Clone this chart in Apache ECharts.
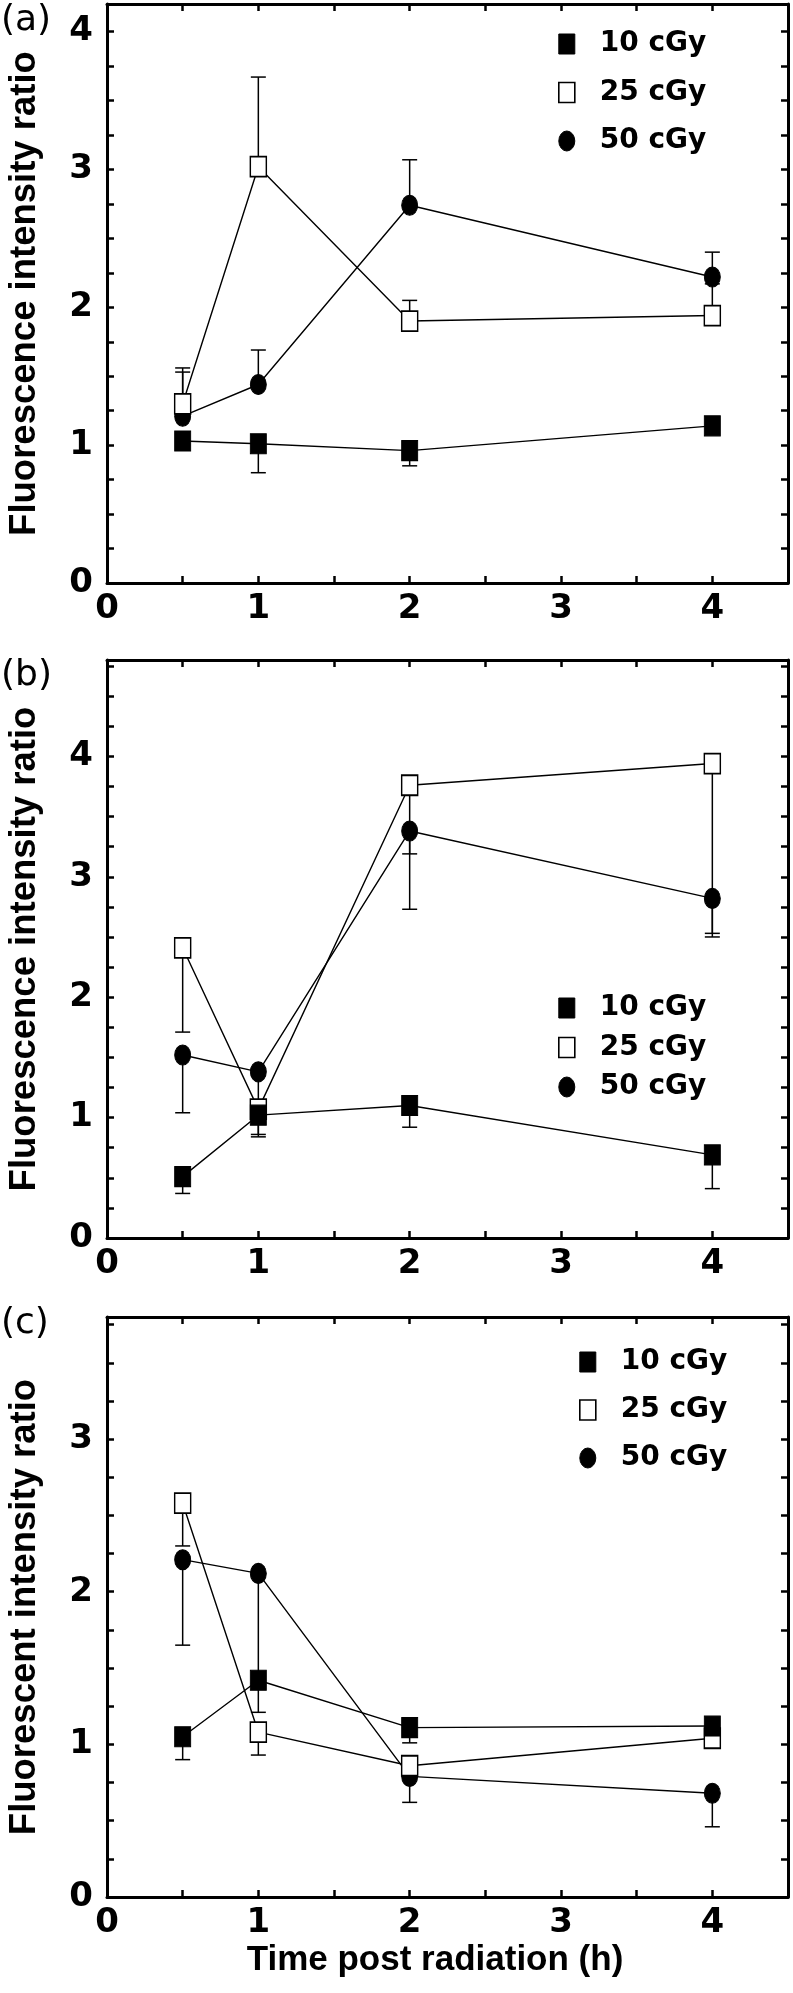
<!DOCTYPE html>
<html>
<head>
<meta charset="utf-8">
<script src="https://cdn.jsdelivr.net/npm/echarts@6/dist/echarts.min.js"></script>
<style>
html, body { margin: 0; padding: 0; background: #ffffff; }
#chart { width: 793px; height: 1993px; }
</style>
</head>
<body>
<div id="chart"></div>
<script>
// ---------------- data ----------------
const times = [0.5, 1, 2, 4];
const seriesNames = ['10 cGy', '25 cGy', '50 cGy'];
const panelLabels = ['(a)', '(b)', '(c)'];
const yTitles = ['Fluorescence intensity ratio', 'Fluorescence intensity ratio', 'Fluorescent intensity ratio'];
const xTitle = 'Time post radiation (h)';
const yMaxes = [4.2, 4.8, 3.8];

// panel (a)
const a10 = [1.03, 1.01, 0.96, 1.14];
const a10Err = [null, 0.80, 0.85, null];
const a25 = [1.30, 3.02, 1.90, 1.94];
const a25Err = [1.56, 3.67, 2.05, 2.17];
const a50 = [1.21, 1.44, 2.74, 2.22];
const a50Err = [1.53, 1.69, 3.07, 2.40];

// panel (b)
const b10 = [0.51, 1.02, 1.10, 0.69];
const b10Err = [0.37, 0.84, 0.92, 0.41];
const b25 = [2.41, 1.07, 3.76, 3.94];
const b25Err = [1.71, 0.86, 3.19, 2.53];
const b50 = [1.52, 1.38, 3.38, 2.82];
const b50Err = [1.04, 1.10, 2.73, 2.50];

// panel (c)
const c10 = [1.05, 1.42, 1.11, 1.12];
const c10Err = [0.90, 1.21, 1.01, null];
const c25 = [2.58, 1.08, 0.86, 1.04];
const c25Err = [2.30, 0.93, null, null];
const c50 = [2.21, 2.12, 0.79, 0.68];
const c50Err = [1.65, 1.40, 0.62, 0.46];

const panels = [
  { vals: [a10, a25, a50], errs: [a10Err, a25Err, a50Err] },
  { vals: [b10, b25, b50], errs: [b10Err, b25Err, b50Err] },
  { vals: [c10, c25, c50], errs: [c10Err, c25Err, c50Err] }
];

// ---------------- layout / style ----------------
const gridTops = [4, 660, 1317];
const gridHeights = [579, 578, 580];
const labelY = [21, 676, 1324];
const legendLeft = [558, 558, 579];
const legendTop = [30, 994, 1348];
const legendGap = [20.5, 11.5, 20];

const RECT = 'path://M0,0L16,0L16,20L0,20Z';
const ELLIPSE = 'path://M8,0A8,10,0,1,1,8,20A8,10,0,1,1,8,0Z';
const symbols = [RECT, RECT, ELLIPSE];
const styles = [
  { color: '#000', borderColor: '#000', borderWidth: 1 },
  { color: '#fff', borderColor: '#000', borderWidth: 1.6 },
  { color: '#000', borderColor: '#000', borderWidth: 1 }
];
const drawOrder = [2, 1, 0];

const tickFont = { fontFamily: 'DejaVu Sans', fontWeight: 'bold', fontSize: 34, color: '#000' };
const axisLineStyle = { color: '#000', width: 3 };
const tickStyle = { show: true, inside: true, length: 7, lineStyle: { color: '#000', width: 2.5 } };
const intLabel = v => (Math.abs(v - Math.round(v)) < 1e-6 ? String(Math.round(v)) : '');

const grid = [], xAxis = [], yAxis = [], series = [], legend = [];

panels.forEach((p, k) => {
  grid.push({ left: 107, width: 681, top: gridTops[k], height: gridHeights[k], outerBoundsMode: 'none', containLabel: false });
  const base = { type: 'value', gridIndex: k, min: 0, max: 4.5, interval: 0.5,
    axisLine: { show: true, onZero: false, lineStyle: axisLineStyle },
    axisTick: tickStyle, splitLine: { show: false }, minorTick: { show: false } };
  xAxis.push(Object.assign({}, base, { position: 'bottom',
    axisLabel: Object.assign({ show: true, margin: 9, formatter: intLabel }, tickFont) }));
  xAxis.push(Object.assign({}, base, { position: 'top', axisLabel: { show: false } }));
  const ybase = { type: 'value', gridIndex: k, min: 0, max: yMaxes[k], interval: 0.25,
    axisLine: { show: true, onZero: false, lineStyle: axisLineStyle },
    axisTick: tickStyle, splitLine: { show: false } };
  yAxis.push(Object.assign({}, ybase, { position: 'left',
    axisLabel: Object.assign({ show: true, margin: 14, formatter: intLabel, showMaxLabel: false }, tickFont),
    name: yTitles[k], nameLocation: 'middle', nameRotate: 90, nameGap: 64,
    nameTextStyle: { fontFamily: 'Liberation Sans', fontWeight: 'bold', fontSize: 36.5, color: '#000' } }));
  yAxis.push(Object.assign({}, ybase, { position: 'right', axisLabel: { show: false } }));

  const xi = k * 2, yi = k * 2;
  // error bars
  p.vals.forEach((vals, s) => {
    const data = [];
    times.forEach((t, i) => { if (p.errs[s][i] != null) data.push([t, vals[i], p.errs[s][i]]); });
    series.push({
      type: 'custom', xAxisIndex: xi, yAxisIndex: yi, z: 1, silent: true,
      encode: { x: 0, y: [1, 2] },
      data: data,
      renderItem: (params, api) => {
        const x = api.value(0);
        const p0 = api.coord([x, api.value(1)]);
        const p1 = api.coord([x, api.value(2)]);
        const hw = 7.5;
        return { type: 'group', children: [
          { type: 'line', shape: { x1: p0[0], y1: p0[1], x2: p1[0], y2: p1[1] }, style: { stroke: '#000', lineWidth: 1.5 } },
          { type: 'line', shape: { x1: p1[0] - hw, y1: p1[1], x2: p1[0] + hw, y2: p1[1] }, style: { stroke: '#000', lineWidth: 1.5 } }
        ] };
      }
    });
  });
  // lines + markers
  drawOrder.forEach(s => {
    series.push({
      type: 'line', name: seriesNames[s], xAxisIndex: xi, yAxisIndex: yi, z: 2,
      data: times.map((t, i) => [t, p.vals[s][i]]),
      symbol: symbols[s], symbolSize: [16, 20], showAllSymbol: true,
      lineStyle: { color: '#000', width: 1.4 },
      itemStyle: styles[s],
      emphasis: { disabled: true }
    });
  });
  legend.push({
    orient: 'vertical', left: legendLeft[k], top: legendTop[k], itemGap: legendGap[k],
    padding: 0, itemWidth: 16, itemHeight: 20, selectedMode: false,
    textStyle: { fontFamily: 'DejaVu Sans', fontWeight: 'bold', fontSize: 28, color: '#000', padding: [0, 0, 0, 20] },
    data: seriesNames.map((n, i) => ({ name: n, icon: symbols[i], itemStyle: styles[i] }))
  });
});

const graphic = panelLabels.map((t, k) => ({
  type: 'text', x: 1, y: labelY[k],
  style: { text: t, fontFamily: 'DejaVu Sans', fontSize: 36, fill: '#000', align: 'left', verticalAlign: 'middle' }
}));
graphic.push({
  type: 'text', x: 435, y: 1960,
  style: { text: xTitle, fontFamily: 'Liberation Sans', fontWeight: 'bold', fontSize: 35, fill: '#000', align: 'center', verticalAlign: 'middle' }
});

const chart = echarts.init(document.getElementById('chart'), null, { renderer: 'canvas' });
chart.setOption({
  animation: false,
  backgroundColor: '#fff',
  grid, xAxis, yAxis, series, legend, graphic
});
</script>
</body>
</html>
